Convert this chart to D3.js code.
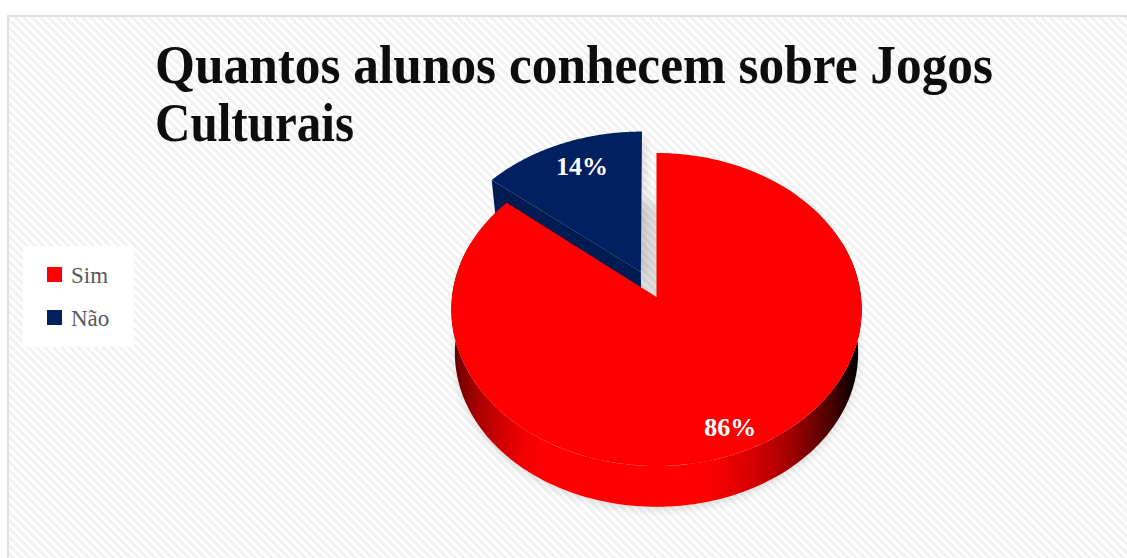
<!DOCTYPE html>
<html lang="pt">
<head>
<meta charset="utf-8">
<style>
  html, body { margin: 0; padding: 0; background: #fff; }
  svg { display: block; }
  text { font-family: "Liberation Serif", "DejaVu Serif", serif; }
</style>
<script src="https://cdn.jsdelivr.net/npm/d3@7"></script>
</head>
<body>
<svg id="chart" width="1127" height="558"></svg>
<script>
// Chart content
const titleLines = ["Quantos alunos conhecem sobre Jogos", "Culturais"];
const categories = ["Sim", "Não"];
const values = [86, 14];
const sliceColors = ["#ff0000", "#002060"];

const W = 1127, H = 558;
const svg = d3.select("#chart");
const defs = svg.append("defs");

const color = d3.scaleOrdinal().domain(categories).range(sliceColors);
const pieLayout = d3.pie().sort(null).value(d => d.value);
const slices = pieLayout(categories.map((name, i) => ({ name, value: values[i] })));

// Perspective projection of the pie disc: (X, Y) in disc units, Y pointing away from the viewer
const persp = 0.08;
const topFace = { cx: 656.5, cy: 297, rx: 204.5, ry: 155.5 };
const bottomFace = { cx: 656.5, cy: 340.5, rx: 201, ry: 153 };
const raisedFace = { cx: 656.5, cy: 297, rx: 207, ry: 155.5 };
const project = (face, X, Y) => {
  const w = 1 + persp * Y;
  return [face.cx + face.rx * X / w, face.cy - face.ry * Y / w];
};
const onDisc = (angle, t = 1) => [Math.sin(angle) * t, Math.cos(angle) * t];

// Slices move along their bisector when exploded
const explode = { "Sim": 0, "Não": 0.18 };
const sliceOrigin = s => {
  const mid = (s.startAngle + s.endAngle) / 2;
  return onDisc(mid, explode[s.data.name]);
};
const line = d3.line();
const sampleAngles = (a0, a1, n = 160) => d3.range(n + 1).map(i => a0 + (a1 - a0) * i / n);

const faceOutline = (s, face) => {
  const [ox, oy] = sliceOrigin(s);
  const rim = sampleAngles(s.startAngle, s.endAngle).map(a => {
    const [u, v] = onDisc(a);
    return project(face, ox + u, oy + v);
  });
  return line([project(face, ox, oy), ...rim]) + "Z";
};

// Striped chart background
const stripePeriod = 5.9;
const stripe = defs.append("pattern")
  .attr("id", "stripes").attr("patternUnits", "userSpaceOnUse")
  .attr("width", stripePeriod).attr("height", stripePeriod)
  .attr("patternTransform", "rotate(45)");
stripe.append("rect").attr("width", stripePeriod).attr("height", stripePeriod).attr("fill", "#ffffff");
stripe.append("rect").attr("width", stripePeriod).attr("height", stripePeriod / 2).attr("fill", "#f2f2f2");

svg.append("rect").attr("width", W).attr("height", H).attr("fill", "#fff");
svg.append("rect").attr("x", 8).attr("y", 16).attr("width", W + 10).attr("height", H + 10)
  .attr("fill", "url(#stripes)").attr("stroke", "#e0e0e0").attr("stroke-width", 2);

// Soft shadows
const blur = defs.append("filter").attr("id", "soft")
  .attr("x", "-20%").attr("y", "-20%").attr("width", "140%").attr("height", "140%");
blur.append("feGaussianBlur").attr("stdDeviation", 5);

const sim = slices[0], nao = slices[1];
const fullDisc = line(sampleAngles(0, 2 * Math.PI, 240).map(a => {
  const [u, v] = onDisc(a);
  return project(bottomFace, u, v);
})) + "Z";
svg.append("path").attr("d", fullDisc).attr("transform", "translate(0,3)")
  .attr("fill", "#000").attr("opacity", 0.12).attr("filter", "url(#soft)");
svg.append("path").attr("d", faceOutline(nao, raisedFace)).attr("transform", "translate(5,6)")
  .attr("fill", "#000").attr("opacity", 0.1).attr("filter", "url(#soft)");

// Shading along the rim of the large slice
const rimGradient = defs.append("linearGradient")
  .attr("id", "rimShade").attr("gradientUnits", "userSpaceOnUse")
  .attr("x1", 452).attr("x2", 861).attr("y1", 0).attr("y2", 0);
[[0, "#5e0000"], [0.06, "#a80000"], [0.17, "#f00000"], [0.23, "#ff0000"],
 [0.62, "#ff0000"], [0.74, "#d40000"], [0.83, "#a00000"], [0.93, "#480000"], [0.99, "#000000"]]
  .forEach(([o, c]) => rimGradient.append("stop").attr("offset", o).attr("stop-color", c));

// Exploded slice: cut face first, then its top
const [nox, noy] = sliceOrigin(nao);
const [cu, cv] = onDisc(nao.startAngle);
svg.append("path")
  .attr("d", line([
    project(raisedFace, nox, noy),
    project(raisedFace, nox + cu, noy + cv),
    project(bottomFace, nox + cu, noy + cv),
    project(bottomFace, nox, noy)
  ]) + "Z")
  .attr("fill", "#001b52");
svg.append("path").attr("d", faceOutline(nao, raisedFace)).attr("fill", color(nao.data.name));

// Large slice: rim band, then top
const rimAngles = sampleAngles(1.2, 5.08);
const rimTop = rimAngles.map(a => { const [u, v] = onDisc(a); return project(topFace, u, v); });
const rimBottom = rimAngles.map(a => { const [u, v] = onDisc(a); return project(bottomFace, u, v); });
svg.append("path").attr("d", line([...rimTop, ...rimBottom.reverse()]) + "Z")
  .attr("fill", "url(#rimShade)");
svg.append("path").attr("d", faceOutline(sim, topFace)).attr("fill", color(sim.data.name));

// Percentage labels
const labelPlacement = { "Sim": { t: 0.87, dx: -7 }, "Não": { t: 0.81, dx: 6 } };
slices.forEach(s => {
  const place = labelPlacement[s.data.name];
  const [ox, oy] = sliceOrigin(s);
  const [u, v] = onDisc((s.startAngle + s.endAngle) / 2, place.t);
  const [x, y] = project(topFace, ox + u, oy + v);
  svg.append("text")
    .attr("x", x + place.dx).attr("y", y + 8)
    .attr("text-anchor", "middle")
    .attr("font-size", 26).attr("font-weight", 700).attr("fill", "#fff")
    .text(`${s.data.value}%`);
});

// Title
svg.selectAll("text.title").data(titleLines).join("text")
  .attr("class", "title")
  .attr("x", 155)
  .attr("y", (d, i) => 83 + i * 58)
  .attr("font-size", 54).attr("font-weight", 700).attr("fill", "#0d0d0d")
  .attr("textLength", (d, i) => i === 0 ? 838 : 199)
  .attr("lengthAdjust", "spacingAndGlyphs")
  .text(d => d);

// Legend
svg.append("rect").attr("x", 23).attr("y", 246).attr("width", 111).attr("height", 101).attr("fill", "#fff");
const legendRow = d3.scalePoint().domain(categories).range([274.5, 317.5]);
const legend = svg.selectAll("g.legend").data(categories).join("g")
  .attr("class", "legend")
  .attr("transform", d => `translate(47,${legendRow(d)})`);
legend.append("rect")
  .attr("y", -7.5).attr("width", 15).attr("height", 15)
  .attr("fill", d => color(d));
legend.append("text")
  .attr("x", 24).attr("y", 8)
  .attr("font-size", 23).attr("fill", "#595959")
  .text(d => d);
</script>
</body>
</html>
